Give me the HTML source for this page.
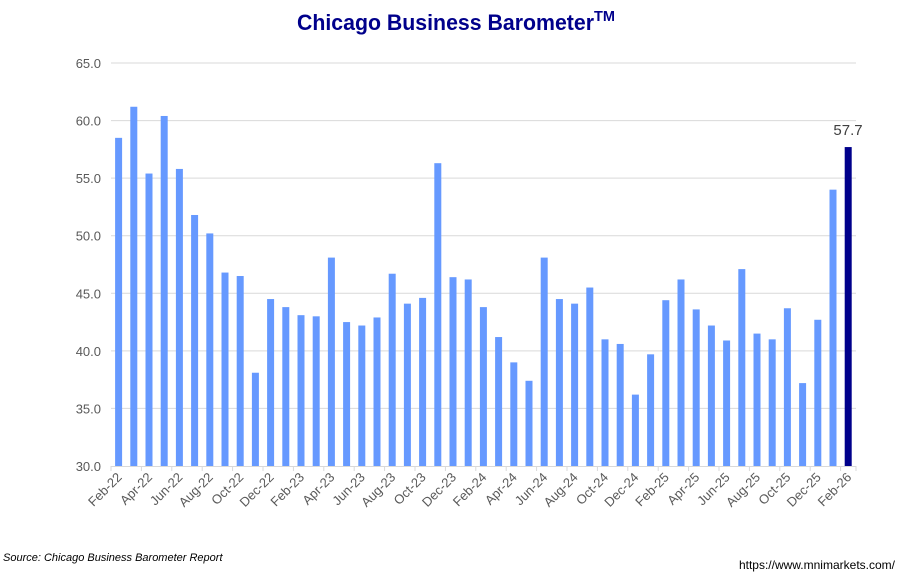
<!DOCTYPE html>
<html><head><meta charset="utf-8"><style>
body{margin:0;background:#fff;width:913px;height:577px;overflow:hidden;font-family:"Liberation Sans",sans-serif}
</style></head><body>
<svg id="c" width="913" height="577" xmlns="http://www.w3.org/2000/svg"></svg>
<script>
const v=[58.5,61.2,55.4,60.4,55.8,51.8,50.2,46.8,46.5,38.1,44.5,43.8,43.1,43.0,48.1,42.5,42.2,42.9,46.7,44.1,44.6,56.3,46.4,46.2,43.8,41.2,39.0,37.4,48.1,44.5,44.1,45.5,41.0,40.6,36.2,39.7,44.4,46.2,43.6,42.2,40.9,47.1,41.5,41.0,43.7,37.2,42.7,54.0,57.7];
const m=['Jan','Feb','Mar','Apr','May','Jun','Jul','Aug','Sep','Oct','Nov','Dec'];
let s='<text x="456" y="30" text-anchor="middle" font-size="22" font-weight="bold" fill="#00008B" font-family="Liberation Sans,sans-serif" textLength="318" lengthAdjust="spacingAndGlyphs">Chicago Business Barometer<tspan font-size="15" dy="-9">TM</tspan></text>';
const Y=x=>466-(x-30)*11.514;
for(let g=30;g<=65;g+=5){const y=Y(g);
 if(g>30)s+=`<line x1="111" x2="856" y1="${y}" y2="${y}" stroke="#d9d9d9" stroke-width="1"/>`;
 s+=`<text x="101" y="${y+5}" text-anchor="end" font-size="13" fill="#595959">${g.toFixed(1)}</text>`;}
s+=`<line x1="111" x2="856" y1="466.5" y2="466.5" stroke="#d9d9d9"/>`;
const w=15.2;
for(let i=0;i<49;i++){const cx=111+(i+0.5)*w;const y=Y(v[i]);
 s+=`<rect x="${cx-3.5}" y="${y}" width="7" height="${466-y}" fill="${i==48?'#00008B':'#6699FF'}"/>`;
 if(i%2==0){s+=`<line x1="${111+i*w}" x2="${111+i*w}" y1="466" y2="471" stroke="#d9d9d9"/>`;
  const mi=(1+i)%12,yr=22+Math.floor((1+i)/12);
  s+=`<text transform="translate(${cx+4},478) rotate(-45)" text-anchor="end" font-size="13" fill="#595959">${m[mi]}-${yr}</text>`;}}
s+=`<line x1="856" x2="856" y1="466" y2="471" stroke="#d9d9d9"/>`;
s+=`<text x="848" y="135" text-anchor="middle" font-size="15" fill="#404040">57.7</text>`;
s+=`<text x="3" y="561" font-size="11" font-style="italic" fill="#000">Source: Chicago Business Barometer Report</text>`;
s+=`<text x="895" y="569" text-anchor="end" font-size="12" fill="#000">https://www.mnimarkets.com/</text>`;
document.getElementById('c').innerHTML=s;
</script>
</body></html>
